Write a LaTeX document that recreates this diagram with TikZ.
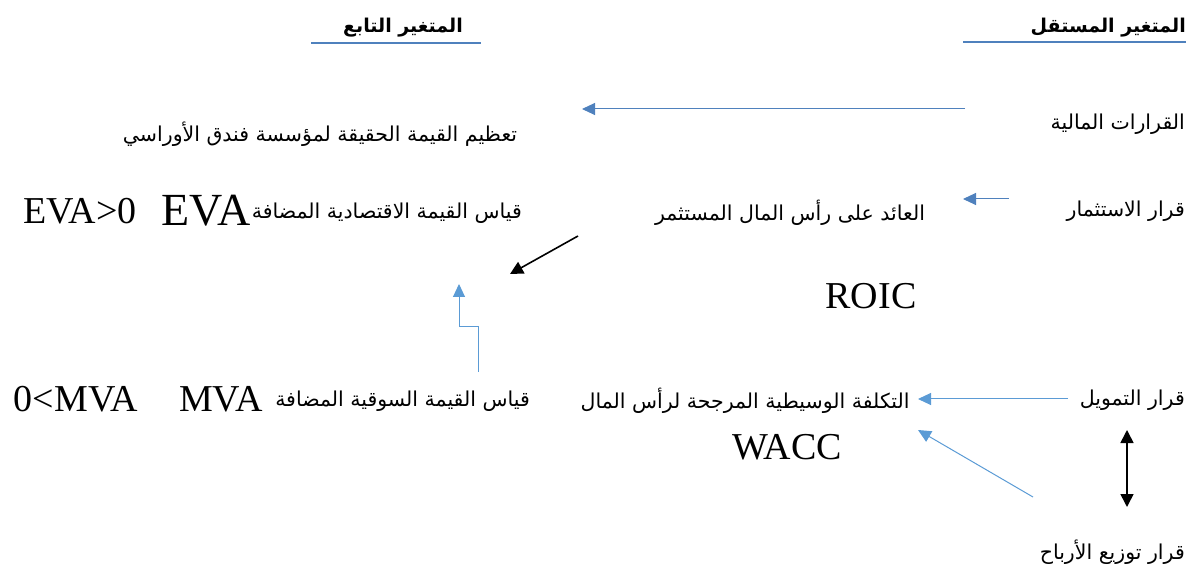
\documentclass[tikz,border=0pt]{standalone}
\usepackage{fontspec}
\setmainfont{Liberation Serif}
\newfontfamily\arabicfont[Script=Arabic]{DejaVu Sans}
\TeXXeTstate=1
\usetikzlibrary{arrows.meta}
\definecolor{wordblue}{HTML}{4F81BD}
\definecolor{lightblue}{HTML}{5B9BD5}
\newcommand{\ar}[1]{{\arabicfont\beginR #1\endR}}
\tikzset{
  artext/.style={inner sep=0pt, font=\arabicfont\fontsize{20.5}{24}\selectfont},
  arhead/.style={inner sep=0pt, font=\arabicfont\bfseries\fontsize{19}{22}\selectfont},
  latin/.style={inner sep=0pt, font=\fontsize{38}{40}\selectfont},
  latinbig/.style={inner sep=0pt, font=\fontsize{46}{48}\selectfont},
  uline/.style={wordblue, line width=1.3pt},
  bluearrow/.style={wordblue, line width=1pt, -{Triangle[length=13pt,width=12pt]}},
  lbluearrow/.style={lightblue, line width=1pt, -{Triangle[length=13pt,width=12pt]}},
  blackarrow/.style={black, line width=1.6pt, -{Triangle[length=13pt,width=13pt]}},
  blackdouble/.style={black, line width=1.6pt, {Triangle[length=13pt,width=13pt]}-{Triangle[length=13pt,width=13pt]}}
}
\begin{document}
\begin{tikzpicture}[x=1pt,y=-1pt]
\useasboundingbox (0,0) rectangle (1195,569);

% column headings
\node[arhead, anchor=east] (hIndep) at (1186,28) {\ar{المتغير المستقل}};
\node[arhead] (hDep) at (403,28) {\ar{المتغير التابع}};
\coordinate (uIndepL) at (963,42);
\coordinate (uIndepR) at (1186,42);
\coordinate (uDepL) at (311,43);
\coordinate (uDepR) at (481,43);
\draw[uline] (uIndepL) -- (uIndepR);
\draw[uline] (uDepL) -- (uDepR);

% row 1: financial decisions
\node[artext, anchor=east] (fin) at (1185,124) {\ar{القرارات المالية}};
\node[artext] (goal) at (320,134) {\ar{تعظيم القيمة الحقيقة لمؤسسة فندق الأوراسي}};
\coordinate (finS) at (965,109);
\coordinate (finE) at (582,109);
\draw[bluearrow] (finS) -- (finE);

% row 2: investment decision
\node[artext, anchor=east] (inv) at (1185,211) {\ar{قرار الاستثمار}};
\node[artext] (roic) at (790,213) {\ar{العائد على رأس المال المستثمر}};
\coordinate (invS) at (1009,199);
\coordinate (invE) at (963,199);
\draw[bluearrow] (invS) -- (invE);
\node[latin] (roicAb) at (871,296) {ROIC};

\node[artext, anchor=east] (eva) at (522,213) {\ar{قياس القيمة الاقتصادية المضافة}};
\node[latinbig] (evaAb) at (206,211) {EVA};
\node[latin] (evaPos) at (80,211) {EVA>0};
\coordinate (evaS) at (578,236);
\coordinate (evaE) at (510,274);
\draw[blackarrow] (evaS) -- (evaE);

% row 3: financing decision
\node[artext, anchor=east] (finance) at (1185,400) {\ar{قرار التمويل}};
\node[artext] (wacc) at (745,401) {\ar{التكلفة الوسيطية المرجحة لرأس المال}};
\node[latin] (waccAb) at (787,447) {WACC};
\coordinate (fnS) at (1068,399);
\coordinate (fnE) at (918,399);
\draw[lbluearrow] (fnS) -- (fnE);

\node[artext, anchor=east] (mva) at (530,401) {\ar{قياس القيمة السوقية المضافة}};
\node[latin] (mvaAb) at (221,399) {MVA};
\node[latin] (mvaPos) at (76,399) {0<MVA};
\coordinate (mvS) at (478,372);
\coordinate (mvE) at (459,284);
\draw[lbluearrow] (mvS) -- (478,327) -- (459,327) -- (mvE);

% row 4: dividend decision
\node[artext, anchor=east] (div) at (1185,552) {\ar{قرار توزيع الأرباح}};
\coordinate (dvT) at (1127,430);
\coordinate (dvB) at (1127,507);
\draw[blackdouble] (dvT) -- (dvB);
\coordinate (dvS) at (1033,497);
\coordinate (dvE) at (918,430);
\draw[lbluearrow] (dvS) -- (dvE);
\end{tikzpicture}
\end{document}
